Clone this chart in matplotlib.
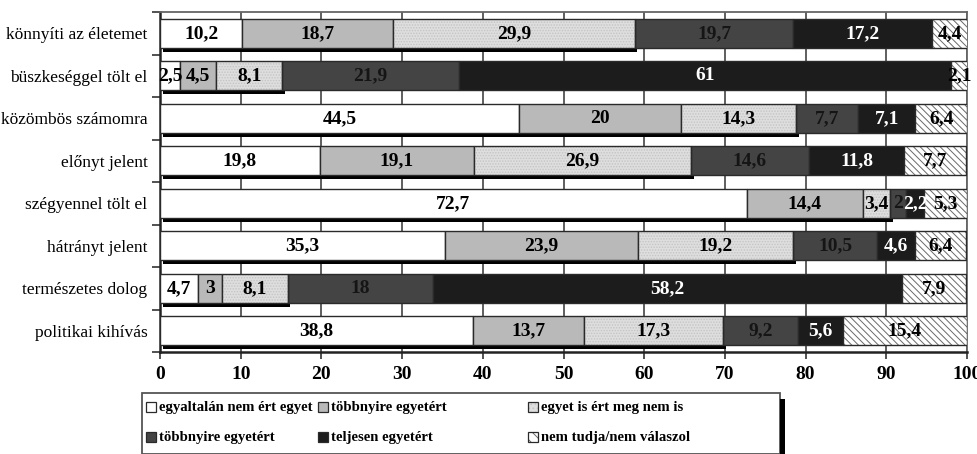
import matplotlib
matplotlib.use("Agg")
import matplotlib.pyplot as plt
from matplotlib.patches import Rectangle
import numpy as np

categories = [
    "könnyíti az életemet",
    "büszkeséggel tölt el",
    "közömbös számomra",
    "előnyt jelent",
    "szégyennel tölt el",
    "hátrányt jelent",
    "természetes dolog",
    "politikai kihívás",
]

series_names = [
    "egyaltalán nem ért egyet",
    "többnyire egyetért",
    "egyet is ért meg nem is",
    "többnyire egyetért",
    "teljesen egyetért",
    "nem tudja/nem válaszol",
]

# one list per series, in category order
s_nem_ert = [10.2, 2.5, 44.5, 19.8, 72.7, 35.3, 4.7, 38.8]
s_tobbnyire_1 = [18.7, 4.5, 20, 19.1, 14.4, 23.9, 3, 13.7]
s_egyet_is = [29.9, 8.1, 14.3, 26.9, 3.4, 19.2, 8.1, 17.3]
s_tobbnyire_2 = [19.7, 21.9, 7.7, 14.6, 2, 10.5, 18, 9.2]
s_teljesen = [17.2, 61, 7.1, 11.8, 2.2, 4.6, 58.2, 5.6]
s_nem_tudja = [4.4, 2.1, 6.4, 7.7, 5.3, 6.4, 7.9, 15.4]

xticks = [0, 10, 20, 30, 40, 50, 60, 70, 80, 90, 100]

series = [s_nem_ert, s_tobbnyire_1, s_egyet_is, s_tobbnyire_2, s_teljesen, s_nem_tudja]
faces = ["white", "#b9b9b9", "#dedede", "#444444", "#1c1c1c", "white"]
hatches = [None, None, "......", None, None, "\\\\\\\\\\"]
hatch_cols = [None, None, "#c4c4c4", None, None, "#6a6a6a"]
text_cols = ["black", "black", "black", "#151515", "white", "black"]

plt.rcParams["font.family"] = ["Liberation Serif", "DejaVu Serif"]
plt.rcParams["hatch.linewidth"] = 0.7

fig = plt.figure(figsize=(9.78, 4.54), dpi=100)
ax = fig.add_axes([160 / 978, 1 - 352 / 454, 807 / 978, 340 / 454])

y = np.arange(len(categories))
bar_h = 0.68
left = np.zeros(len(categories))

# drop shadow under the first three series
cum3 = np.array(s_nem_ert) + np.array(s_tobbnyire_1) + np.array(s_egyet_is)
ax.barh(y + bar_h / 2 + 0.045, cum3, left=0.35, height=0.1, color="black",
        linewidth=0, zorder=2)

for i, vals in enumerate(series):
    vals = np.array(vals, dtype=float)
    if hatches[i]:
        ax.barh(y, vals, left=left, height=bar_h, color=faces[i],
                hatch=hatches[i], edgecolor=hatch_cols[i], linewidth=0, zorder=3)
        ax.barh(y, vals, left=left, height=bar_h, fill=False,
                edgecolor="#2a2a2a", linewidth=1, zorder=4)
    else:
        ax.barh(y, vals, left=left, height=bar_h, color=faces[i],
                edgecolor="#2a2a2a", linewidth=1, zorder=3)
    for j, v in enumerate(vals):
        lo = left[j]
        hi = min(lo + v, 100.0)
        lab = f"{v:g}".replace(".", ",")
        ax.text((lo + hi) / 2, y[j], lab, ha="center", va="center",
                fontsize=14, fontweight="bold", color=text_cols[i],
                zorder=6, clip_on=False)
    left = left + vals

ax.set_xlim(0, 100)
ax.set_ylim(len(categories) - 0.5, -0.5)
ax.set_xticks(xticks)
ax.set_xticklabels([str(t) for t in xticks], fontsize=14, fontweight="bold")
ax.set_yticks(y)
ax.set_yticklabels(categories, fontsize=12.5)
ax.set_yticks(np.arange(len(categories) + 1) - 0.5, minor=True)
ax.tick_params(axis="y", which="major", length=0, pad=9)
ax.tick_params(axis="y", which="minor", length=6, width=1.2, color="#333333")
ax.tick_params(axis="x", length=5, width=1.2, color="#333333", pad=5)

ax.set_axisbelow(True)
ax.xaxis.grid(True, color="#333333", linewidth=1.1, zorder=0)
for side in ["top", "right"]:
    ax.spines[side].set_color("#666666")
    ax.spines[side].set_linewidth(1.3)
for side in ["left", "bottom"]:
    ax.spines[side].set_color("#222222")
    ax.spines[side].set_linewidth(1.8)

# legend box, drawn by hand so the columns land where the reference has them
W, H = 978.0, 454.0
box_l, box_r, box_t = 142, 780, 393
fig.patches.append(Rectangle((box_l / W, 0), (box_r - box_l) / W, 1 - box_t / H,
                             transform=fig.transFigure, facecolor="white",
                             edgecolor="#555555", linewidth=1.3))
fig.patches.append(Rectangle((box_r / W, 0), 5 / W, 1 - (box_t + 6) / H,
                             transform=fig.transFigure, facecolor="black",
                             edgecolor="none"))

col_x = [146, 318, 528]
row_y = [407, 437]
order = [(0, 0), (1, 0), (2, 0), (0, 1), (1, 1), (2, 1)]
sq = 10
for k, (c, r) in enumerate(order):
    px, py = col_x[c], row_y[r]
    if hatches[k]:
        fig.patches.append(Rectangle((px / W, (H - py - sq / 2) / H), sq / W, sq / H,
                                     transform=fig.transFigure, facecolor=faces[k],
                                     hatch="\\\\\\" if k == 5 else "....",
                                     edgecolor=hatch_cols[k], linewidth=0))
        fig.patches.append(Rectangle((px / W, (H - py - sq / 2) / H), sq / W, sq / H,
                                     transform=fig.transFigure, fill=False,
                                     edgecolor="#2a2a2a", linewidth=0.9))
    else:
        fig.patches.append(Rectangle((px / W, (H - py - sq / 2) / H), sq / W, sq / H,
                                     transform=fig.transFigure, facecolor=faces[k],
                                     edgecolor="#2a2a2a", linewidth=0.9))
    fig.text((px + sq + 3) / W, (H - py) / H, series_names[k], fontsize=10.6,
             fontweight="bold", ha="left", va="center")

fig.savefig("out.png", dpi=100)
